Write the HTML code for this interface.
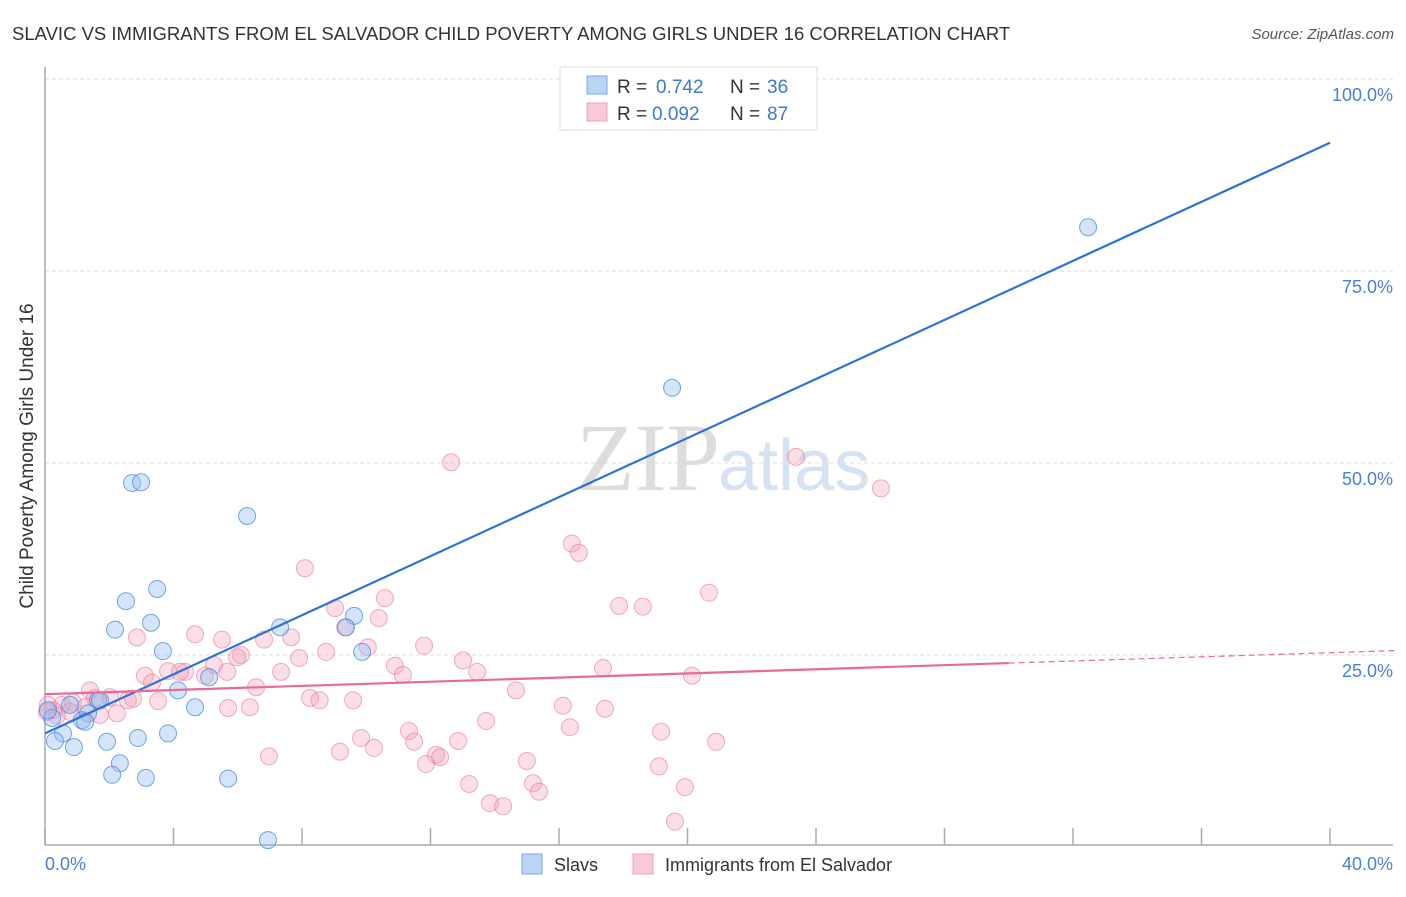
<!DOCTYPE html>
<html><head><meta charset="utf-8"><style>
body{margin:0;background:#fff;font-family:"Liberation Sans",sans-serif}
</style></head><body>
<svg id="c" width="1406" height="892" xmlns="http://www.w3.org/2000/svg">
<text x="12" y="40" font-size="18.5" fill="#333">SLAVIC VS IMMIGRANTS FROM EL SALVADOR CHILD POVERTY AMONG GIRLS UNDER 16 CORRELATION CHART</text>
<text x="1394" y="39" font-size="15" fill="#555" font-style="italic" text-anchor="end">Source: ZipAtlas.com</text>
<text x="720" y="490" font-size="96" fill="#ddd" text-anchor="end" font-family="Liberation Serif">ZIP</text>
<text x="718" y="490" font-size="72" fill="#d5e2f3">atlas</text>
<g id="grid"></g><g id="axes"></g><g id="pts"></g><g id="lines"></g>
<text transform="translate(33,456) rotate(-90)" font-size="19" fill="#333" text-anchor="middle">Child Poverty Among Girls Under 16</text>
<text x="45" y="870" font-size="18" fill="#4a7fd4">0.0%</text>
<text x="1393" y="870" font-size="18" fill="#4a7fd4" text-anchor="end">40.0%</text>
<g>
<rect x="560" y="67" width="257" height="63" fill="#fff" stroke="#ddd"/>
<rect x="587" y="76" width="20" height="18" fill="#b9d4f5" stroke="#7aa8e6"/>
<rect x="587" y="103" width="20" height="18" fill="#f9c9d7" stroke="#f0a0b8"/>
<text x="617" y="93" font-size="19" fill="#333">R =</text>
<text x="656" y="93" font-size="19" fill="#3a78d4">0.742</text>
<text x="730" y="93" font-size="19" fill="#333">N =</text>
<text x="767" y="93" font-size="19" fill="#3a78d4">36</text>
<text x="617" y="120" font-size="19" fill="#333">R =</text>
<text x="652" y="120" font-size="19" fill="#3a78d4">0.092</text>
<text x="730" y="120" font-size="19" fill="#333">N =</text>
<text x="767" y="120" font-size="19" fill="#3a78d4">87</text>
</g>
<g>
<rect x="522" y="854" width="20" height="20" fill="#b9d4f5" stroke="#7aa8e6"/>
<text x="554" y="871" font-size="18" fill="#333">Slavs</text>
<rect x="633" y="854" width="20" height="20" fill="#f9c9d7" stroke="#f0a0b8"/>
<text x="665" y="871" font-size="18" fill="#333">Immigrants from El Salvador</text>
</g>
</svg>
<script>
const yTicks=[25,50,75,100];
const yTickLabels=["25.0%","50.0%","75.0%","100.0%"];
const xTicks=[0,4,8,12,16,20,24,28,32,36,40];
const slavX=[32.47,19.52,2.71,2.99,6.29,3.49,2.52,3.30,2.18,7.32,9.62,9.37,3.67,9.87,4.14,5.11,4.67,1.65,1.34,1.15,1.25,0.56,0.31,0.90,1.93,2.89,3.83,2.33,2.09,3.14,5.70,6.94,0.22,0.78,1.71,0.09];
const slavY=[80.7,59.8,47.4,47.5,43.1,33.6,32.0,29.2,28.3,28.6,30.1,28.6,25.5,25.4,20.4,22.1,18.2,19.1,17.4,16.5,16.3,14.8,13.8,13.0,13.7,14.2,14.8,10.9,9.4,9.0,8.9,0.9,16.8,18.5,19.1,17.8];
const salX=[12.64,23.38,26.02,16.40,16.62,8.09,20.67,17.87,18.61,10.58,9.03,10.39,9.34,4.67,2.86,5.51,7.66,6.82,11.80,10.05,8.75,6.10,5.98,7.91,13.01,10.89,5.26,7.35,3.83,17.37,13.45,4.36,11.14,3.11,20.14,3.33,4.98,6.57,1.40,14.66,8.25,8.55,9.59,2.58,3.52,2.74,2.02,0.87,0.53,16.12,17.43,6.38,5.70,2.24,1.71,0.25,0.37,13.73,16.34,11.33,19.18,20.89,9.84,12.86,11.49,9.18,10.24,12.17,6.97,12.30,11.86,15.00,19.11,15.19,15.38,13.20,19.92,13.85,14.26,19.61,0.78,1.25,0.06,1.56,4.20,5.67,0.09];
const salY=[50.1,50.8,46.7,39.5,38.3,36.3,33.1,31.4,31.3,32.4,31.1,29.8,28.6,27.7,27.3,27.0,27.3,27.0,26.2,26.0,25.4,25.0,24.7,24.6,24.3,23.6,23.7,22.8,22.9,23.3,22.8,22.8,22.4,22.3,22.3,21.4,22.3,20.8,20.4,20.4,19.4,19.1,19.1,19.1,19.0,19.3,19.5,18.8,18.5,18.4,18.0,18.2,18.1,17.4,17.2,17.8,17.1,16.4,15.6,15.1,15.0,13.7,14.2,13.8,13.7,12.4,12.9,12.0,11.8,11.7,10.8,11.2,10.5,8.3,7.2,8.2,7.8,5.7,5.3,3.3,17.6,18.2,17.6,19.4,22.8,22.8,18.5];
const slavLine=[14.8,91.7];
const salLine=[19.9,25.3];
const salSolidEnd=30;
const X=v=>45+v*32.125, Y=v=>847-v*7.68;
const NS="http://www.w3.org/2000/svg";
function mk(p,t,a){const e=document.createElementNS(NS,t);for(const k in a)e.setAttribute(k,a[k]);document.getElementById(p).appendChild(e);return e;}
yTicks.forEach((t,i)=>{
 const g=mk('grid','line',{x1:45,x2:1393,y1:Y(t),y2:Y(t),stroke:'#ddd','stroke-dasharray':'4,3'});
 
 
 const l=mk('grid','text',{x:1393,y:Y(t)+22,'font-size':18,fill:'#4a7fd4','text-anchor':'end'});
 l.textContent=yTickLabels[i];
 
 
});
const ya=mk('axes','line',{x1:45,x2:45,y1:67,y2:845,stroke:'#aaa','stroke-width':1.5});


const xa=mk('axes','line',{x1:45,x2:1393,y1:845,y2:845,stroke:'#aaa','stroke-width':1.5});


xTicks.forEach(t=>{
 const k=mk('axes','line',{x1:X(t),x2:X(t),y1:828,y2:845,stroke:'#aaa','stroke-width':1.5});
 
 
});
salX.forEach((x,i)=>{
 const c=mk('pts','circle',{cx:X(x),cy:Y(salY[i]),r:8.5,fill:'rgba(244,160,186,0.35)',stroke:'rgba(232,120,155,0.6)','stroke-width':1});
 
 
});
slavX.forEach((x,i)=>{
 const c=mk('pts','circle',{cx:X(x),cy:Y(slavY[i]),r:8.5,fill:'rgba(150,190,240,0.4)',stroke:'rgba(60,130,220,0.7)','stroke-width':1});
 
 
});
const bl=mk('lines','line',{x1:X(0),y1:Y(slavLine[0]),x2:X(40),y2:Y(slavLine[1]),stroke:'#2a72d8','stroke-width':2.2});


const sy=v=>salLine[0]+(salLine[1]-salLine[0])*v/40;
const pl=mk('lines','line',{x1:X(0),y1:Y(sy(0)),x2:X(salSolidEnd),y2:Y(sy(salSolidEnd)),stroke:'#e8699a','stroke-width':2.2});


const pd=mk('lines','line',{x1:X(salSolidEnd),y1:Y(sy(salSolidEnd)),x2:X(42),y2:Y(sy(42)),stroke:'#e8699a','stroke-width':1.2,'stroke-dasharray':'6,4'});


</script>
</body></html>
